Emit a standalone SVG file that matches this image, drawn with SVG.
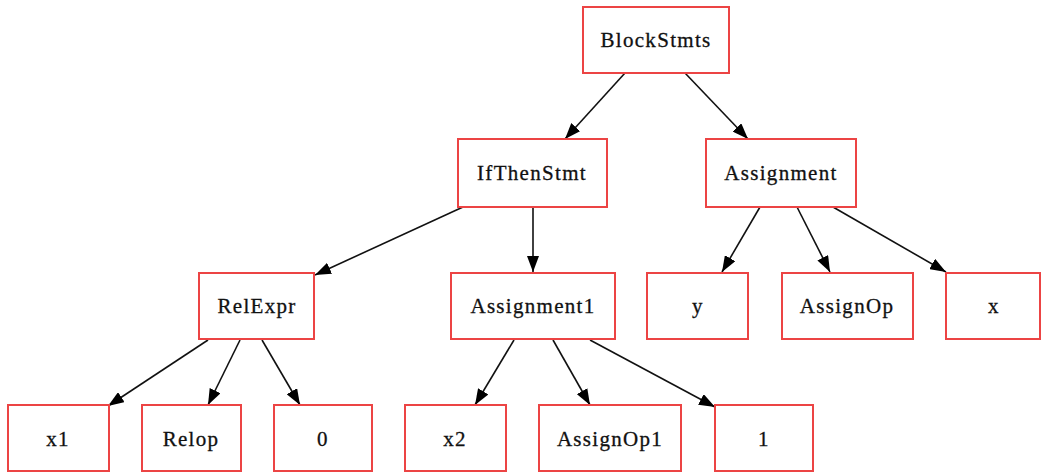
<svg xmlns="http://www.w3.org/2000/svg" width="1041" height="473" viewBox="0 0 1041 473">
<style>
.n rect{fill:#fff;stroke:#ec4444;stroke-width:2}
.n text{font-family:'Liberation Serif','Times New Roman',serif;font-size:21px;letter-spacing:1.3px;fill:#111;stroke:#111;stroke-width:0.3;text-anchor:middle}
.e line{stroke:#111;stroke-width:1.6;marker-end:url(#ah)}
</style>
<defs>
<marker id="ah" viewBox="0 0 16 12" refX="16" refY="6" markerWidth="16" markerHeight="12" markerUnits="userSpaceOnUse" orient="auto">
<path d="M0,0 L16,6 L0,12 z" fill="#000"/>
</marker>
</defs>
<g class="e" id="connectors">
<line x1="625" y1="73" x2="565" y2="139"/>
<line x1="685" y1="73" x2="748" y2="139"/>
<line x1="463" y1="207" x2="315" y2="275"/>
<line x1="533" y1="207" x2="533" y2="272"/>
<line x1="760" y1="207" x2="722" y2="272"/>
<line x1="797" y1="207" x2="830" y2="272"/>
<line x1="833" y1="207" x2="946" y2="272"/>
<line x1="208" y1="340" x2="108" y2="406"/>
<line x1="240" y1="340" x2="208" y2="405"/>
<line x1="262" y1="340" x2="300" y2="405"/>
<line x1="514" y1="340" x2="475" y2="405"/>
<line x1="553" y1="340" x2="590" y2="405"/>
<line x1="590" y1="340" x2="715" y2="407"/>
</g>
<g class="n" id="BlockStmts"><rect x="583" y="7" width="146" height="66"/><text x="656" y="47">BlockStmts</text></g>
<g class="n" id="IfThenStmt"><rect x="458" y="139" width="149" height="68"/><text x="532" y="180">IfThenStmt</text></g>
<g class="n" id="Assignment"><rect x="706" y="139" width="150" height="68"/><text x="781" y="180">Assignment</text></g>
<g class="n" id="RelExpr"><rect x="199" y="273" width="115" height="66"/><text x="257" y="313">RelExpr</text></g>
<g class="n" id="Assignment1"><rect x="451" y="273" width="164" height="66"/><text x="533" y="313">Assignment1</text></g>
<g class="n" id="y"><rect x="647" y="273" width="101" height="66"/><text x="698" y="313">y</text></g>
<g class="n" id="AssignOp"><rect x="782" y="273" width="131" height="66"/><text x="847" y="313">AssignOp</text></g>
<g class="n" id="x"><rect x="946" y="273" width="94" height="66"/><text x="994" y="313">x</text></g>
<g class="n" id="x1"><rect x="8" y="405" width="101" height="66"/><text x="58" y="446">x1</text></g>
<g class="n" id="Relop"><rect x="142" y="405" width="99" height="66"/><text x="191" y="446">Relop</text></g>
<g class="n" id="zero"><rect x="274" y="405" width="98" height="66"/><text x="323" y="446">0</text></g>
<g class="n" id="x2"><rect x="405" y="405" width="101" height="66"/><text x="455" y="446">x2</text></g>
<g class="n" id="AssignOp1"><rect x="539" y="405" width="142" height="66"/><text x="610" y="446">AssignOp1</text></g>
<g class="n" id="one"><rect x="715" y="405" width="98" height="66"/><text x="764" y="446">1</text></g>
</svg>
